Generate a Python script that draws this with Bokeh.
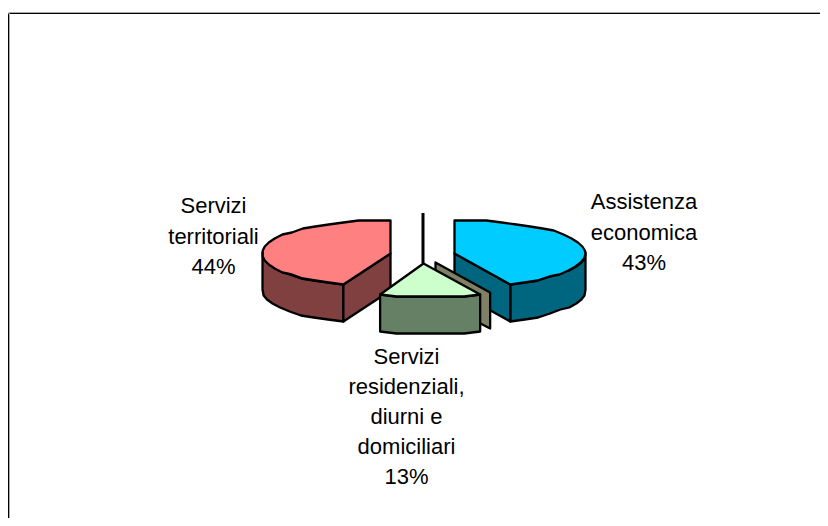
import numpy as np
from bokeh.plotting import figure
from bokeh.models import Range1d
from bokeh.core.properties import value
from bokeh.embed import file_html
from bokeh.resources import INLINE

categories = ["Assistenza economica", "Servizi residenziali, diurni e domiciliari", "Servizi territoriali"]
shares = [43, 13, 44]
label_lines = [["Assistenza", "economica", "43%"],
               ["Servizi", "residenziali,", "diurni e", "domiciliari", "13%"],
               ["Servizi", "territoriali", "44%"]]
top_colors = ["#00CCFF", "#CCFFCC", "#FF8080"]
side_colors = ["#006680", "#668066", "#804040"]
olive = "#808066"

W, H = 820, 518
p = figure(width=W, height=H, output_backend="svg", toolbar_location=None,
           x_range=Range1d(0, W), y_range=Range1d(H, 0), min_border=0,
           outline_line_color=None,
           background_fill_color="white", border_fill_color="white")
p.axis.visible = False
p.grid.visible = False

# chart frame (left and top only)
p.segment([8, 9], [13, 14], [8, 9], [H, H], line_color=["black", "#AAAAAA"], line_width=1)
p.segment([8, 9], [12, 13], [W, W], [12, 13], line_color=["#AAAAAA", "black"], line_width=1)

DEPTH = 37
LW = 2.3

def rim(cx, cy, a, b, t0, t1):
    # coarse polyline, as in the faceted rim of the original
    n = max(3, int(abs(t1 - t0) / 7) + 1)
    t = np.radians(np.linspace(t0, t1, n))
    return cx + a * np.sin(t), np.round((cy - b * np.cos(t)) / 2) * 2

def poly(x, y, color):
    p.patch(list(x), list(y), fill_color=color, line_color="black", line_width=LW, line_join="round")

# cumulative angles (clockwise from the top of the ellipse)
ang = np.cumsum([0] + shares) * 3.6

# --- Servizi territoriali (wraps back to the top)
t0, t1 = ang[2], ang[3]
cx, cy, a, b = 390, 253, 128, 34
xr, yr = rim(cx, cy, a, b, t0, t1)
xw, yw = rim(cx, cy, a, b, t0, 270)
poly(np.r_[xw, xw[::-1]], np.r_[yw, yw[::-1] + DEPTH], side_colors[2])
poly([cx, xr[0], xr[0], cx], [cy, yr[0], yr[0] + DEPTH, cy + DEPTH], side_colors[2])
poly(np.r_[cx, xr], np.r_[cy, yr], top_colors[2])

# --- Assistenza economica
t0, t1 = ang[0], ang[1]
cx, cy, a, b = 454, 253, 131, 34
xr, yr = rim(cx, cy, a, b, t0, t1)
xw, yw = rim(cx, cy, a, b, 90, t1)
poly(np.r_[xw, xw[::-1]], np.r_[yw, yw[::-1] + DEPTH], side_colors[0])
poly([cx, xr[-1], xr[-1], cx], [cy, yr[-1], yr[-1] + DEPTH, cy + DEPTH], side_colors[0])
poly(np.r_[cx, xr], np.r_[cy, yr], top_colors[0])

# --- Servizi residenziali
t0, t1 = ang[1], ang[2]
cx, cy, a, b = 426, 263, 126, 34
ax = 423
xr, yr = rim(cx, cy, a, b, t0, t1)
poly([ax + 12, xr[0] + 10, xr[0] + 10, ax + 12], [cy - 1, yr[0] - 2, yr[0] + DEPTH - 3, cy + DEPTH], olive)
poly(np.r_[xr, xr[::-1]], np.r_[yr, yr[::-1] + DEPTH], side_colors[1])
poly(np.r_[ax, xr], np.r_[cy, yr], top_colors[1])
p.line([ax - 0.5, ax - 0.5], [212.5, cy], line_color="black", line_width=3)

# labels
label_cx = [643.5, 406, 213]
label_y0 = [201, 356, 205]
label_step = [30.5, 30, 30.5]
xs, ys, txt = [], [], []
for lines, lx, ly, st in zip(label_lines, label_cx, label_y0, label_step):
    for i, s in enumerate(lines):
        xs.append(lx); ys.append(ly + i * st); txt.append(s)
p.text(xs, ys, text=txt, text_font=value("Liberation Sans"), text_font_size="22px",
       text_color="black", text_align="center", text_baseline="middle")

open("out.html", "w").write(file_html(p, INLINE))
